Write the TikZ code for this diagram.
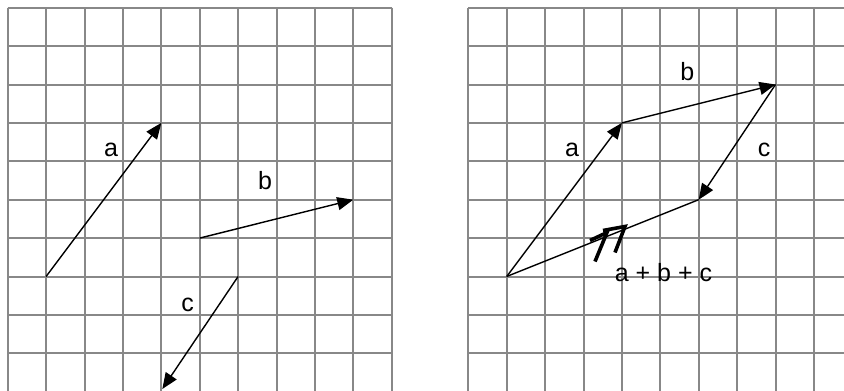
\documentclass[tikz,border=0pt]{standalone}
\usepackage{fontspec}
\setmainfont{Liberation Sans}
\usetikzlibrary{arrows.meta}
\definecolor{gridgray}{RGB}{136,136,136}
\begin{document}
\begin{tikzpicture}[x=1pt,y=-1pt,
  gridline/.style={draw=gridgray,line width=2pt},
  vec/.style={draw=black,line width=1.4pt,-{Triangle[length=16pt,width=13pt]}},
  plainvec/.style={draw=black,line width=1.4pt},
  chev/.style={draw=black,line width=3.6pt,line cap=butt,line join=miter},
  lbl/.style={anchor=base,inner sep=0pt,font=\fontsize{25}{30}\selectfont}]
\useasboundingbox (0,0) rectangle (844,391);
\fill[white] (0,0) rectangle (844,391);
\begin{scope}
\clip (0,0) rectangle (844,391);
\foreach \i in {0,...,10} {
  \draw[gridline] (7.7+38.4*\i,7.7) -- (7.7+38.4*\i,391.7);
  \draw[gridline] (7.7,7.7+38.4*\i) -- (391.7,7.7+38.4*\i);
  \draw[gridline] (468.3+38.4*\i,7.7) -- (468.3+38.4*\i,391.7);
  \draw[gridline] (468.3,7.7+38.4*\i) -- (852.3,7.7+38.4*\i);
}
\end{scope}
% left panel
\coordinate (a0) at (46.1,276.5);
\coordinate (a1) at (161.3,122.9);
\coordinate (b0) at (199.7,238.1);
\coordinate (b1) at (353.3,199.7);
\coordinate (c0) at (238.1,276.5);
\coordinate (c1) at (162.3,389);
\draw[vec] (a0) -- (a1);
\draw[vec] (b0) -- (b1);
\draw[vec] (c0) -- (c1);
\node[lbl] (la) at (111,156.7) {a};
\node[lbl] (lb) at (265,189.3) {b};
\node[lbl] (lc) at (187.7,311.7) {c};
% right panel
\coordinate (r0) at (506.7,276.5);
\coordinate (r1) at (621.9,122.9);
\coordinate (r2) at (775.5,84.5);
\coordinate (r3) at (698.7,199.7);
\draw[vec] (r0) -- (r1);
\draw[vec] (r1) -- (r2);
\draw[vec] (r2) -- (r3);
\draw[plainvec] (r0) -- (r3);
\coordinate (t1) at (625,226.5);
\coordinate (t2) at (607,232.5);
\draw[chev] ([shift={(-22,4)}]t1) -- (t1) -- ([shift={(-10,26)}]t1);
\draw[chev] ([shift={(-17,8)}]t2) -- (t2) -- ([shift={(-12,29)}]t2);
\node[lbl] (ra) at (572,156.7) {a};
\node[lbl] (rb) at (687.3,80.7) {b};
\node[lbl] (rc) at (764,156.7) {c};
\node[lbl] (rs) at (663.5,281.7) {a + b + c};
\end{tikzpicture}
\end{document}
